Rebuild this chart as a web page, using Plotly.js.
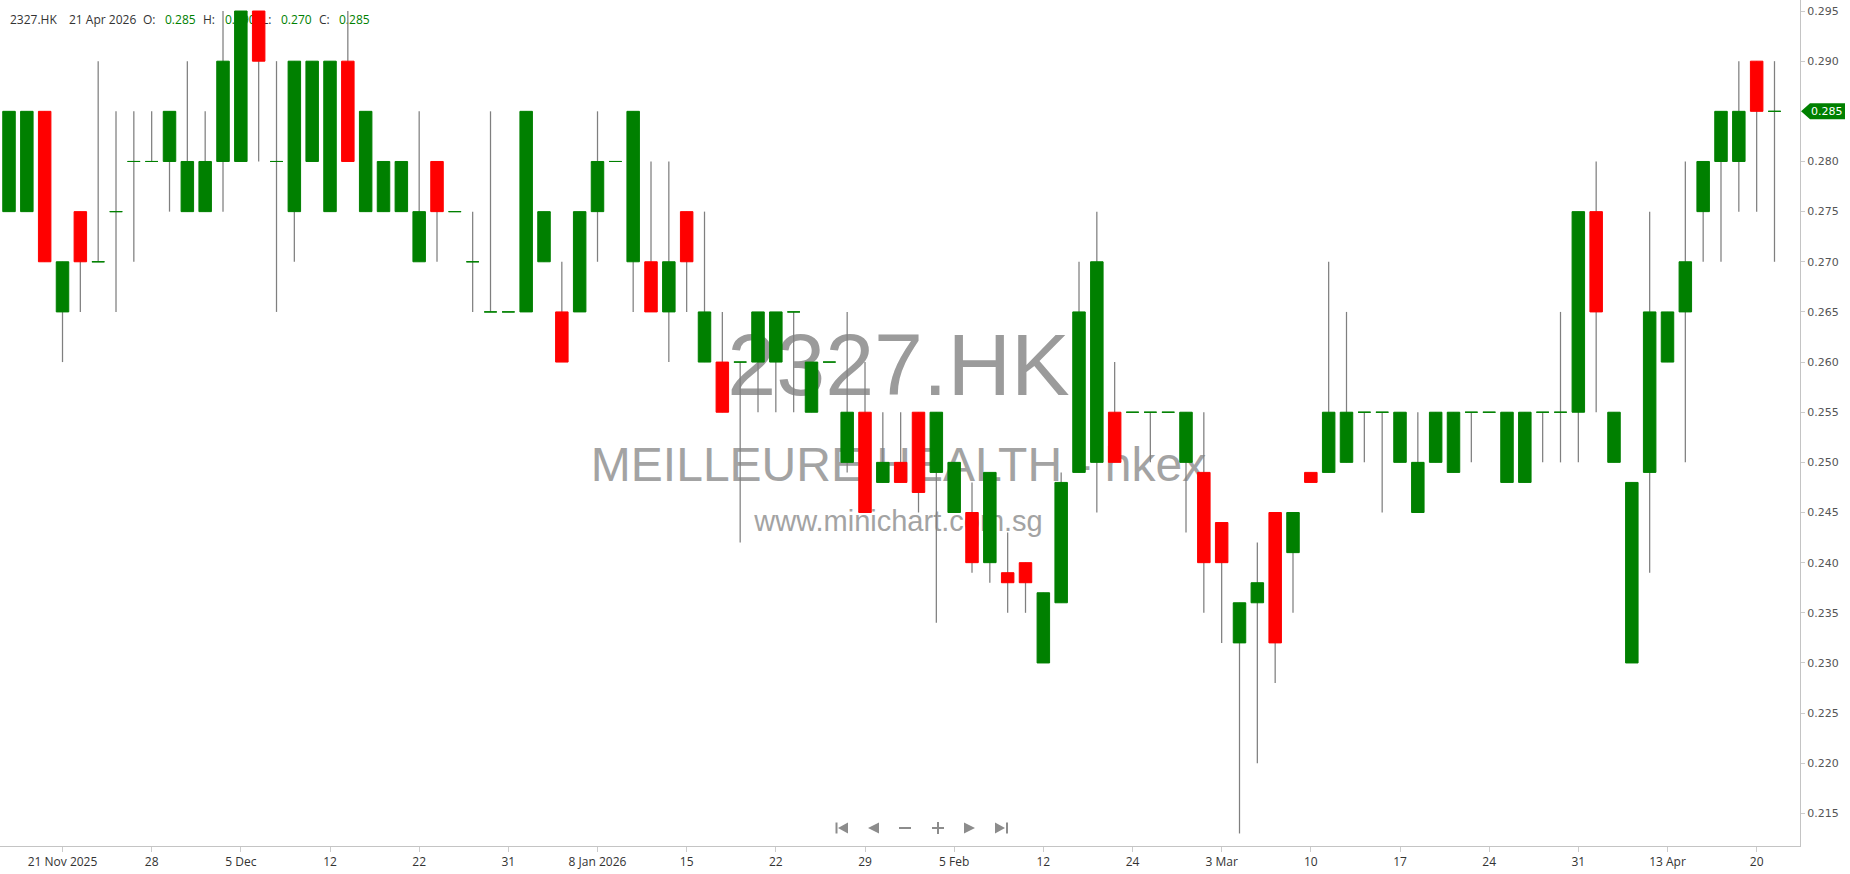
<!DOCTYPE html>
<html><head><meta charset="utf-8">
<script src="https://cdn.plot.ly/plotly-3.0.1.min.js"></script>
<style>html,body{margin:0;padding:0;background:#fff;}#chart{width:1850px;height:874px;}</style>
</head><body><div id="chart"></div>
<script>
const symbol = '2327.HK';
const companyName = 'MEILLEURE HEALTH - hkex';
const website = 'www.minichart.com.sg';

const dates = [
 '2025-11-18','2025-11-19','2025-11-20','2025-11-21','2025-11-24','2025-11-25','2025-11-26','2025-11-27','2025-11-28',
 '2025-12-01','2025-12-02','2025-12-03','2025-12-04','2025-12-05','2025-12-08','2025-12-09','2025-12-10','2025-12-11','2025-12-12',
 '2025-12-15','2025-12-17','2025-12-18','2025-12-19','2025-12-22','2025-12-23','2025-12-24','2025-12-29','2025-12-30','2025-12-31',
 '2026-01-02','2026-01-05','2026-01-06','2026-01-07','2026-01-08','2026-01-09','2026-01-12','2026-01-13','2026-01-14','2026-01-15',
 '2026-01-16','2026-01-19','2026-01-20','2026-01-21','2026-01-22','2026-01-23','2026-01-26','2026-01-27','2026-01-28','2026-01-29','2026-01-30',
 '2026-02-02','2026-02-03','2026-02-04','2026-02-05','2026-02-06','2026-02-09','2026-02-10','2026-02-11','2026-02-12','2026-02-13',
 '2026-02-16','2026-02-20','2026-02-23','2026-02-24','2026-02-25','2026-02-26','2026-02-27',
 '2026-03-02','2026-03-03','2026-03-04','2026-03-05','2026-03-06','2026-03-09','2026-03-10','2026-03-11','2026-03-12','2026-03-13',
 '2026-03-16','2026-03-17','2026-03-18','2026-03-19','2026-03-20','2026-03-23','2026-03-24','2026-03-25','2026-03-26','2026-03-27',
 '2026-03-30','2026-03-31','2026-04-01','2026-04-02','2026-04-08','2026-04-10','2026-04-13','2026-04-14','2026-04-15','2026-04-16',
 '2026-04-17','2026-04-20','2026-04-21'
];

const open = [
 0.275,0.275,0.285,0.265,0.275,0.270,0.275,0.280,0.280,0.280,
 0.275,0.275,0.280,0.280,0.295,0.280,0.275,0.280,0.275,0.290,
 0.275,0.275,0.275,0.270,0.280,0.275,0.270,0.265,0.265,0.265,
 0.270,0.265,0.265,0.275,0.280,0.270,0.270,0.265,0.275,0.260,
 0.260,0.260,0.260,0.260,0.265,0.255,0.260,0.250,0.255,0.248,
 0.250,0.255,0.249,0.245,0.245,0.240,0.239,0.240,0.230,0.236,
 0.249,0.250,0.255,0.255,0.255,0.255,0.250,0.249,0.244,0.232,
 0.236,0.245,0.241,0.249,0.249,0.250,0.255,0.255,0.250,0.245,
 0.250,0.249,0.255,0.255,0.248,0.248,0.255,0.255,0.255,0.275,
 0.250,0.230,0.249,0.260,0.265,0.275,0.280,0.280,0.290,0.285
];
const high = [
 0.285,0.285,0.285,0.270,0.275,0.290,0.285,0.285,0.285,0.285,
 0.290,0.285,0.295,0.295,0.295,0.290,0.290,0.290,0.290,0.295,
 0.285,0.280,0.280,0.285,0.280,0.275,0.275,0.285,0.265,0.285,
 0.275,0.270,0.275,0.285,0.280,0.285,0.280,0.280,0.275,0.275,
 0.265,0.260,0.265,0.265,0.265,0.260,0.260,0.265,0.260,0.255,
 0.255,0.255,0.255,0.250,0.248,0.249,0.243,0.240,0.237,0.249,
 0.270,0.275,0.260,0.255,0.255,0.255,0.255,0.255,0.244,0.236,
 0.242,0.245,0.245,0.249,0.270,0.265,0.255,0.255,0.255,0.255,
 0.255,0.255,0.255,0.255,0.255,0.255,0.255,0.265,0.275,0.280,
 0.255,0.248,0.275,0.265,0.280,0.280,0.285,0.290,0.290,0.290
];
const low = [
 0.275,0.275,0.270,0.260,0.265,0.270,0.265,0.270,0.280,0.275,
 0.275,0.275,0.275,0.280,0.280,0.265,0.270,0.280,0.275,0.280,
 0.275,0.275,0.275,0.270,0.270,0.275,0.265,0.265,0.265,0.265,
 0.270,0.260,0.265,0.270,0.280,0.265,0.265,0.260,0.265,0.260,
 0.255,0.242,0.255,0.255,0.255,0.255,0.260,0.249,0.245,0.248,
 0.248,0.245,0.234,0.245,0.239,0.238,0.235,0.235,0.230,0.236,
 0.249,0.245,0.250,0.255,0.250,0.255,0.243,0.235,0.232,0.213,
 0.220,0.228,0.235,0.248,0.249,0.250,0.250,0.245,0.250,0.245,
 0.250,0.249,0.250,0.255,0.248,0.248,0.250,0.250,0.250,0.255,
 0.250,0.230,0.239,0.260,0.250,0.270,0.270,0.275,0.275,0.270
];
const close = [
 0.285,0.285,0.270,0.270,0.270,0.270,0.275,0.280,0.280,0.285,
 0.280,0.280,0.290,0.295,0.290,0.280,0.290,0.290,0.290,0.280,
 0.285,0.280,0.280,0.275,0.275,0.275,0.270,0.265,0.265,0.285,
 0.275,0.260,0.275,0.280,0.280,0.285,0.265,0.270,0.270,0.265,
 0.255,0.260,0.265,0.265,0.265,0.260,0.260,0.255,0.245,0.250,
 0.248,0.247,0.255,0.250,0.240,0.249,0.238,0.238,0.237,0.248,
 0.265,0.270,0.250,0.255,0.255,0.255,0.255,0.240,0.240,0.236,
 0.238,0.232,0.245,0.248,0.255,0.255,0.255,0.255,0.255,0.250,
 0.255,0.255,0.255,0.255,0.255,0.255,0.255,0.255,0.275,0.265,
 0.255,0.248,0.265,0.265,0.270,0.280,0.285,0.285,0.285,0.285
];

const tickDates = ['2025-11-21','2025-11-28','2025-12-05','2025-12-12','2025-12-22','2025-12-31','2026-01-08','2026-01-15','2026-01-22','2026-01-29',
 '2026-02-05','2026-02-12','2026-02-24','2026-03-03','2026-03-10','2026-03-17','2026-03-24','2026-03-31','2026-04-13','2026-04-20'];
const tickLabels = ['21 Nov 2025','28','5 Dec','12','22','31','8 Jan 2026','15','22','29',
 '5 Feb','12','24','3 Mar','10','17','24','31','13 Apr','20'];
const priceTicks = [0.215,0.220,0.225,0.230,0.235,0.240,0.245,0.250,0.255,0.260,0.265,0.270,0.275,0.280,0.285,0.290,0.295];

const monthNames = ['Jan','Feb','Mar','Apr','May','Jun','Jul','Aug','Sep','Oct','Nov','Dec'];

// ---------- geometry constants (layout only) ----------
const PW = 1800, PH = 846;               // plot area in px
const yRange = [0.21175, 0.2961];
const xRange = [-0.505, 100.43];
const px = x => x / PW;
const py = y => 1 - y / PH;

const GREEN = '#008000', RED = '#ff0000', WICK = '#7f7f7f';

const isDown = close.map((c, i) => c < open[i]);
const pick = (arr, down) => arr.filter((_, i) => isDown[i] === down);

function bodyTrace(down, color) {
  const o = pick(open, down), c = pick(close, down);
  return {
    type: 'candlestick',
    x: pick(dates, down),
    open: o, close: c,
    high: o.map((v, i) => Math.max(v, c[i])),
    low: o.map((v, i) => Math.min(v, c[i])),
    increasing: {line: {color: color, width: 1}, fillcolor: color},
    decreasing: {line: {color: color, width: 1}, fillcolor: color},
    whiskerwidth: 0,
    hoverinfo: 'skip',
    showlegend: false
  };
}

const wickTrace = {
  type: 'bar',
  x: dates,
  base: low,
  y: high.map((h, i) => h - low[i]),
  width: 0.07,
  marker: {color: WICK, line: {width: 0}},
  hoverinfo: 'skip',
  showlegend: false
};

const data = [wickTrace, bodyTrace(false, GREEN), bodyTrace(true, RED)];

// ---------- text drawn beneath the candles ----------
function textShape(xpx, ypx, text, size, color, family, pos) {
  return {
    type: 'rect', xref: 'paper', yref: 'paper', layer: 'below',
    x0: px(xpx), x1: px(xpx + 1), y0: py(ypx + 1), y1: py(ypx - 1),
    line: {width: 0}, fillcolor: 'rgba(0,0,0,0)',
    label: {text: text, font: {size: size, color: color, family: family},
            textposition: pos || 'middle left', padding: 0}
  };
}

const n = close.length;
const last = close[n - 1];
const lastDate = dates[n - 1].split('-');
const lastDateLabel = (+lastDate[2]) + ' ' + monthNames[+lastDate[1] - 1] + ' ' + lastDate[0];
const HF = 'Open Sans, Arial, sans-serif';
const WF = 'Liberation Sans, Arial, sans-serif';
const headerItems = [
  [7, symbol, '#333'],
  [66, lastDateLabel, '#333'],
  [140, 'O:', '#333'], [162, open[n - 1].toFixed(3), GREEN],
  [200, 'H:', '#333'], [222, high[n - 1].toFixed(3), GREEN],
  [259, 'L:', '#333'], [278, low[n - 1].toFixed(3), GREEN],
  [316, 'C:', '#333'], [336, close[n - 1].toFixed(3), GREEN]
];

const shapes = [];
headerItems.forEach(h => shapes.push(textShape(h[0], 20, h[1], 12, h[2], HF)));

shapes.push(textShape(898, 356, symbol, 88, '#9b9b9b', WF, 'middle center'));
shapes.push(textShape(898, 459, companyName, 48, '#a3a3a3', WF, 'middle center'));
shapes.push(textShape(898, 518, website, 29, '#a3a3a3', WF, 'middle center'));

// ---------- navigation icons ----------
function pathShape(pts) {
  const d = pts.map((p, i) => (i ? 'L' : 'M') + px(p[0]) + ',' + py(p[1])).join(' ') + ' Z';
  return {type: 'path', xref: 'paper', yref: 'paper', path: d, fillcolor: '#8c8c8c', line: {width: 0}, layer: 'above'};
}
function rectPx(x0, y0, x1, y1) {
  return pathShape([[x0, y0], [x1, y0], [x1, y1], [x0, y1]]);
}
const NY = 828, NH = 5.5;
shapes.push(rectPx(835.5, NY - NH, 837.5, NY + NH));
shapes.push(pathShape([[848, NY - NH], [838, NY], [848, NY + NH]]));
shapes.push(pathShape([[879, NY - NH], [868, NY], [879, NY + NH]]));
shapes.push(rectPx(899, NY - 1, 911, NY + 1));
shapes.push(rectPx(932, NY - 1, 944, NY + 1));
shapes.push(rectPx(937, NY - 6, 939, NY + 6));
shapes.push(pathShape([[964, NY - NH], [975, NY], [964, NY + NH]]));
shapes.push(pathShape([[995, NY - NH], [1005, NY], [995, NY + NH]]));
shapes.push(rectPx(1006, NY - NH, 1008, NY + NH));

// ---------- last price tag ----------
const hh = 8 * (yRange[1] - yRange[0]) / PH;
shapes.push({
  type: 'path', xref: 'paper', yref: 'y', layer: 'above',
  path: 'M' + px(1801) + ',' + last + ' L' + px(1810) + ',' + (last + hh) + ' L' + px(1845) + ',' + (last + hh) +
        ' L' + px(1845) + ',' + (last - hh) + ' L' + px(1810) + ',' + (last - hh) + ' Z',
  fillcolor: GREEN, line: {width: 0}
});

const annotations = [{
  xref: 'paper', yref: 'y', x: px(1827), y: last, text: last.toFixed(3),
  showarrow: false, xanchor: 'center', yanchor: 'middle',
  font: {family: 'DejaVu Sans, Verdana, sans-serif', size: 11, color: '#ffffff'}
}];

// the tag replaces the axis label at the last price
const shownTicks = priceTicks.filter(v => Math.abs(v - last) > 1e-9);

const layout = {
  width: 1850, height: 874, autosize: false,
  margin: {l: 0, r: 50, t: 0, b: 28, pad: 0},
  paper_bgcolor: '#ffffff', plot_bgcolor: 'rgba(0,0,0,0)',
  showlegend: false,
  boxgap: 0.3, boxgroupgap: 0,
  xaxis: {
    type: 'category', range: xRange, fixedrange: true,
    rangeslider: {visible: false},
    tickmode: 'array', tickvals: tickDates, ticktext: tickLabels,
    ticks: 'outside', ticklen: 5, tickcolor: '#cccccc', tickwidth: 1,
    showline: true, linecolor: '#c4c4c4', linewidth: 1,
    showgrid: false, zeroline: false,
    tickfont: {family: HF, size: 12, color: '#333333'}
  },
  yaxis: {
    side: 'right', range: yRange, fixedrange: true,
    tickmode: 'array', tickvals: shownTicks, ticktext: shownTicks.map(v => v.toFixed(3)),
    ticks: 'outside', ticklen: 4, tickcolor: '#cccccc', tickwidth: 1,
    showline: true, linecolor: '#c4c4c4', linewidth: 1,
    showgrid: false, zeroline: false,
    tickfont: {family: 'DejaVu Sans, Verdana, sans-serif', size: 11, color: '#555555'}
  },
  shapes: shapes,
  annotations: annotations
};

Plotly.newPlot('chart', data, layout, {displayModeBar: false, staticPlot: true});
</script>
</body></html>
